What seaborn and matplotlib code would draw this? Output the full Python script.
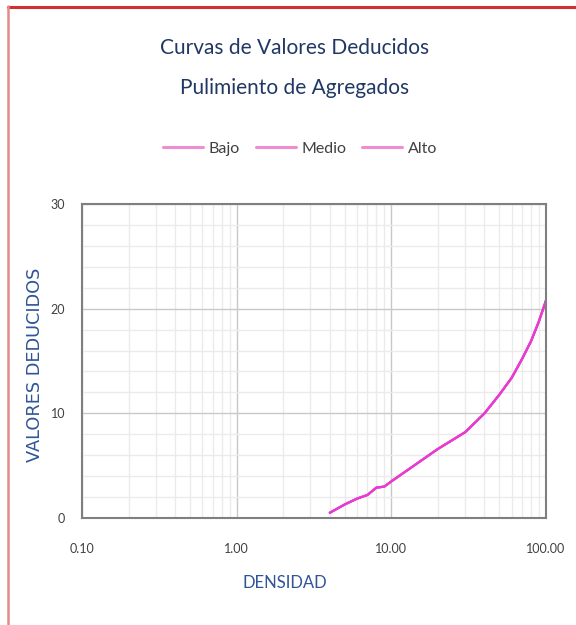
import matplotlib
matplotlib.use("Agg")
import matplotlib.pyplot as plt
import seaborn as sns
import pandas as pd
from matplotlib.lines import Line2D
from matplotlib.font_manager import FontProperties
from matplotlib.ticker import LogLocator, FixedLocator, FuncFormatter

densidad = [4, 5, 6, 7, 8, 9, 10, 20, 30, 40, 50, 60, 70, 80, 90, 100]
valores = [0.5, 1.3, 1.85, 2.2, 2.9, 3.0, 3.5, 6.6, 8.2, 10.0, 11.8, 13.4, 15.2, 16.9, 18.8, 20.8]
series = ["Bajo", "Medio", "Alto"]

# the three curves overlap on the chart
df = pd.concat(
    [pd.DataFrame({"DENSIDAD": densidad, "VALOR": valores, "serie": s}) for s in series],
    ignore_index=True,
)

sns.set_style("white")
plt.rcParams["font.family"] = ["Lato", "DejaVu Sans"]

title_color = "#203864"
label_color = "#2F5597"
tick_color = "#404040"
line_color = "#E83CD0"

fig = plt.figure(figsize=(5.76, 6.25), dpi=100)
ax = fig.add_axes([0.1424, 0.1712, 0.8056, 0.5024])

sns.lineplot(data=df, x="DENSIDAD", y="VALOR", hue="serie",
             palette=[line_color] * 3, linewidth=1.6, legend=False, ax=ax)

ax.set_xscale("log")
ax.set_xlim(0.1, 100)
ax.set_ylim(0, 30)

# grid
ax.xaxis.set_major_locator(FixedLocator([0.1, 1, 10, 100]))
ax.xaxis.set_minor_locator(LogLocator(base=10, subs=range(2, 10)))
ax.xaxis.set_major_formatter(FuncFormatter(lambda v, p: f"{v:.2f}"))
ax.xaxis.set_minor_formatter(FuncFormatter(lambda v, p: ""))
ax.set_yticks([0, 10, 20, 30])
ax.set_yticks(range(0, 31, 2), minor=True)
ax.grid(which="major", color="#C8C8C8", linewidth=1.0)
ax.grid(which="minor", color="#EBEBEB", linewidth=1.0)
ax.set_axisbelow(True)
ax.tick_params(which="both", length=0)
ax.tick_params(axis="x", pad=18, labelsize=9, colors=tick_color)
ax.tick_params(axis="y", pad=12, labelsize=9, colors=tick_color)

for sp in ax.spines.values():
    sp.set_color("#7F7F7F")
    sp.set_linewidth(1.5)

ax.set_xlabel("DENSIDAD", fontsize=12, color=label_color)
ax.xaxis.set_label_coords(0.4375, -0.18)
ylab_font = FontProperties(family="DejaVu Sans", size=12.8)
ax.set_ylabel("VALORES DEDUCIDOS", color=label_color, fontproperties=ylab_font)
ax.yaxis.set_label_coords(-0.082, 0.487)

fig.text(0.512, 1 - 48 / 625, "Curvas de Valores Deducidos",
         ha="center", va="center", fontsize=15, color=title_color)
fig.text(0.512, 1 - 88 / 625, "Pulimiento de Agregados",
         ha="center", va="center", fontsize=15, color=title_color)

handles = [Line2D([], [], color="#F08CD0", linewidth=2.2) for _ in series]
fig.legend(handles, series, loc="center", bbox_to_anchor=(0.521, 0.762), ncol=3,
           frameon=False, fontsize=11.5, handlelength=2.5, columnspacing=1.0,
           handletextpad=0.35, labelcolor=tick_color)

# red border of the original chart box (top and left only visible)
fig.add_artist(Line2D([0.014, 1.0], [0.9885, 0.9885], color="#D03030", linewidth=2.2))
fig.add_artist(Line2D([0.0145, 0.0145], [0.0, 0.99], color="#E58A8A", linewidth=1.8))

fig.savefig("out.png", dpi=100)
